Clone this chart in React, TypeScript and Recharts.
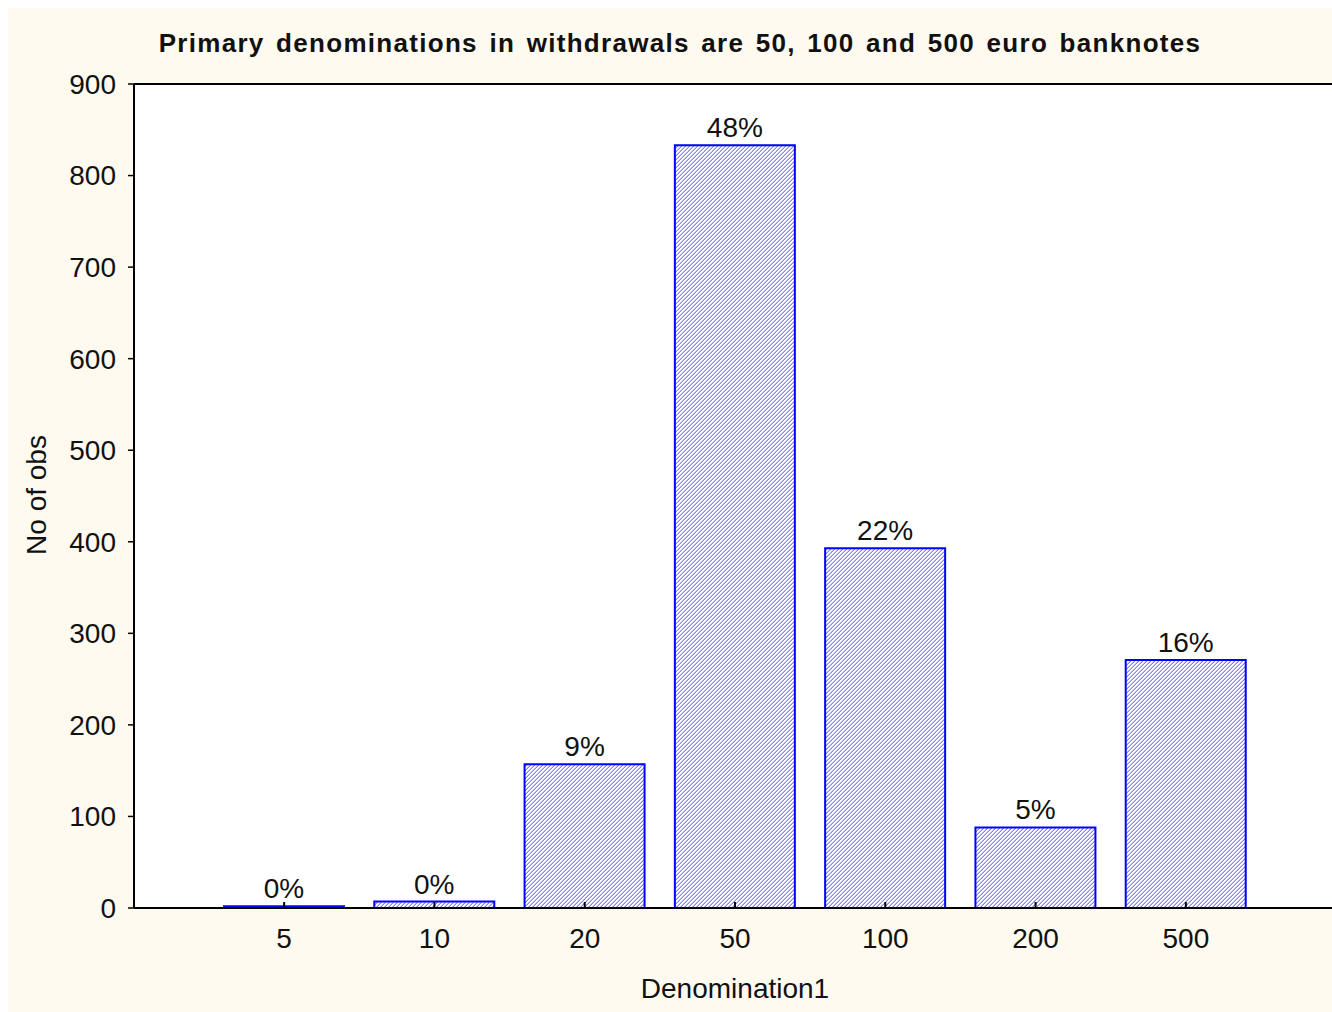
import { BarChart, Bar, XAxis, YAxis, CartesianGrid, LabelList } from 'recharts';

const denominations = ['5', '10', '20', '50', '100', '200', '500'];
const counts = [2, 7, 157, 833, 393, 88, 271];
const shares = ['0%', '0%', '9%', '48%', '22%', '5%', '16%'];
const yTicks = [0, 100, 200, 300, 400, 500, 600, 700, 800, 900];

const data = denominations.map((d, i) => ({
  denomination: d,
  count: counts[i],
  share: shares[i],
}));

const font = '"Liberation Sans", Arial, sans-serif';
const tickFont = { fontSize: 28, fill: '#111', fontFamily: font };

export default function App() {
  return (
    <div
      style={{
        position: 'fixed',
        left: 8,
        top: 8,
        right: 0,
        bottom: 0,
        overflow: 'hidden',
        background: '#fefaef',
        fontFamily: font,
      }}
    >
      <style>{'html{overflow:hidden}'}</style>
      {/* title */}
      <div
        style={{
          position: 'absolute',
          left: 0,
          width: 1344,
          top: 20,
          textAlign: 'center',
          fontSize: 26,
          fontWeight: 'bold',
          color: '#111',
          lineHeight: '30px',
          letterSpacing: 1.3,
          wordSpacing: 3,
          whiteSpace: 'nowrap',
        }}
      >
        Primary denominations in withdrawals are 50, 100 and 500 euro banknotes
      </div>
      <div
        style={{
          position: 'absolute',
          left: 29 - 100,
          top: 487 - 16,
          width: 200,
          height: 32,
          lineHeight: '32px',
          textAlign: 'center',
          fontSize: 28,
          color: '#111',
          transform: 'rotate(-90deg)',
        }}
      >
        No of obs
      </div>
      <div
        style={{
          position: 'absolute',
          left: 727 - 200,
          top: 981 - 16,
          width: 400,
          lineHeight: '32px',
          textAlign: 'center',
          fontSize: 28,
          color: '#111',
        }}
      >
        Denomination1
      </div>
      <div style={{ position: 'absolute', left: 0, top: 0 }}>
        <BarChart
          width={1340}
          height={1004}
          data={data}
          margin={{ top: 75, right: 11, bottom: 44, left: 0 }}
        >
          <defs>
            <pattern id="hatch" width="4" height="4" patternUnits="userSpaceOnUse">
              <rect width="4" height="4" fill="#ffffff" />
              <rect x="0" y="3" width="1" height="1" fill="#8585f0" />
              <rect x="1" y="2" width="1" height="1" fill="#8585f0" />
              <rect x="2" y="1" width="1" height="1" fill="#8585f0" />
              <rect x="3" y="0" width="1" height="1" fill="#8585f0" />
              <rect x="0" y="2" width="1" height="1" fill="#c2c2f8" />
              <rect x="1" y="1" width="1" height="1" fill="#c2c2f8" />
              <rect x="2" y="0" width="1" height="1" fill="#c2c2f8" />
              <rect x="3" y="3" width="1" height="1" fill="#c2c2f8" />
            </pattern>
          </defs>
          <rect x={126} y={76} width={1203} height={824} fill="#ffffff" />
          <CartesianGrid
            horizontal
            vertical={false}
            stroke="#b4b4b4"
            strokeDasharray="2 2"
          />
          <XAxis
            dataKey="denomination"
            xAxisId="bottom"
            orientation="bottom"
            height={60}
            padding={{ left: 75, right: 75 }}
            tickSize={-6}
            tickMargin={26}
            tick={tickFont}
            axisLine={{ stroke: '#000', strokeWidth: 2 }}
            tickLine={{ stroke: '#000', strokeWidth: 2 }}
          />
          <XAxis
            dataKey="denomination"
            xAxisId="top"
            orientation="top"
            height={1}
            padding={{ left: 75, right: 75 }}
            tickSize={-6}
            tick={false}
            axisLine={{ stroke: '#000', strokeWidth: 2 }}
            tickLine={{ stroke: '#000', strokeWidth: 1.5 }}
          />
          <YAxis
            yAxisId="left"
            width={126}
            domain={[0, 900]}
            ticks={yTicks}
            interval={0}
            tickSize={6}
            tickMargin={12}
            tick={tickFont}
            axisLine={{ stroke: '#000', strokeWidth: 2 }}
            tickLine={{ stroke: '#000', strokeWidth: 1.5 }}
          />
          <YAxis
            yAxisId="right"
            orientation="right"
            width={1}
            domain={[0, 900]}
            ticks={yTicks}
            tickSize={-6}
            tick={false}
            axisLine={{ stroke: '#000', strokeWidth: 2 }}
            tickLine={{ stroke: '#000', strokeWidth: 1.5 }}
          />
          <Bar
            dataKey="count"
            xAxisId="bottom"
            yAxisId="left"
            barSize={120}
            fill="url(#hatch)"
            stroke="#0000ff"
            strokeWidth={2}
            isAnimationActive={false}
          >
            <LabelList
              dataKey="share"
              position="top"
              offset={8}
              style={tickFont}
            />
          </Bar>
        </BarChart>
      </div>
    </div>
  );
}
